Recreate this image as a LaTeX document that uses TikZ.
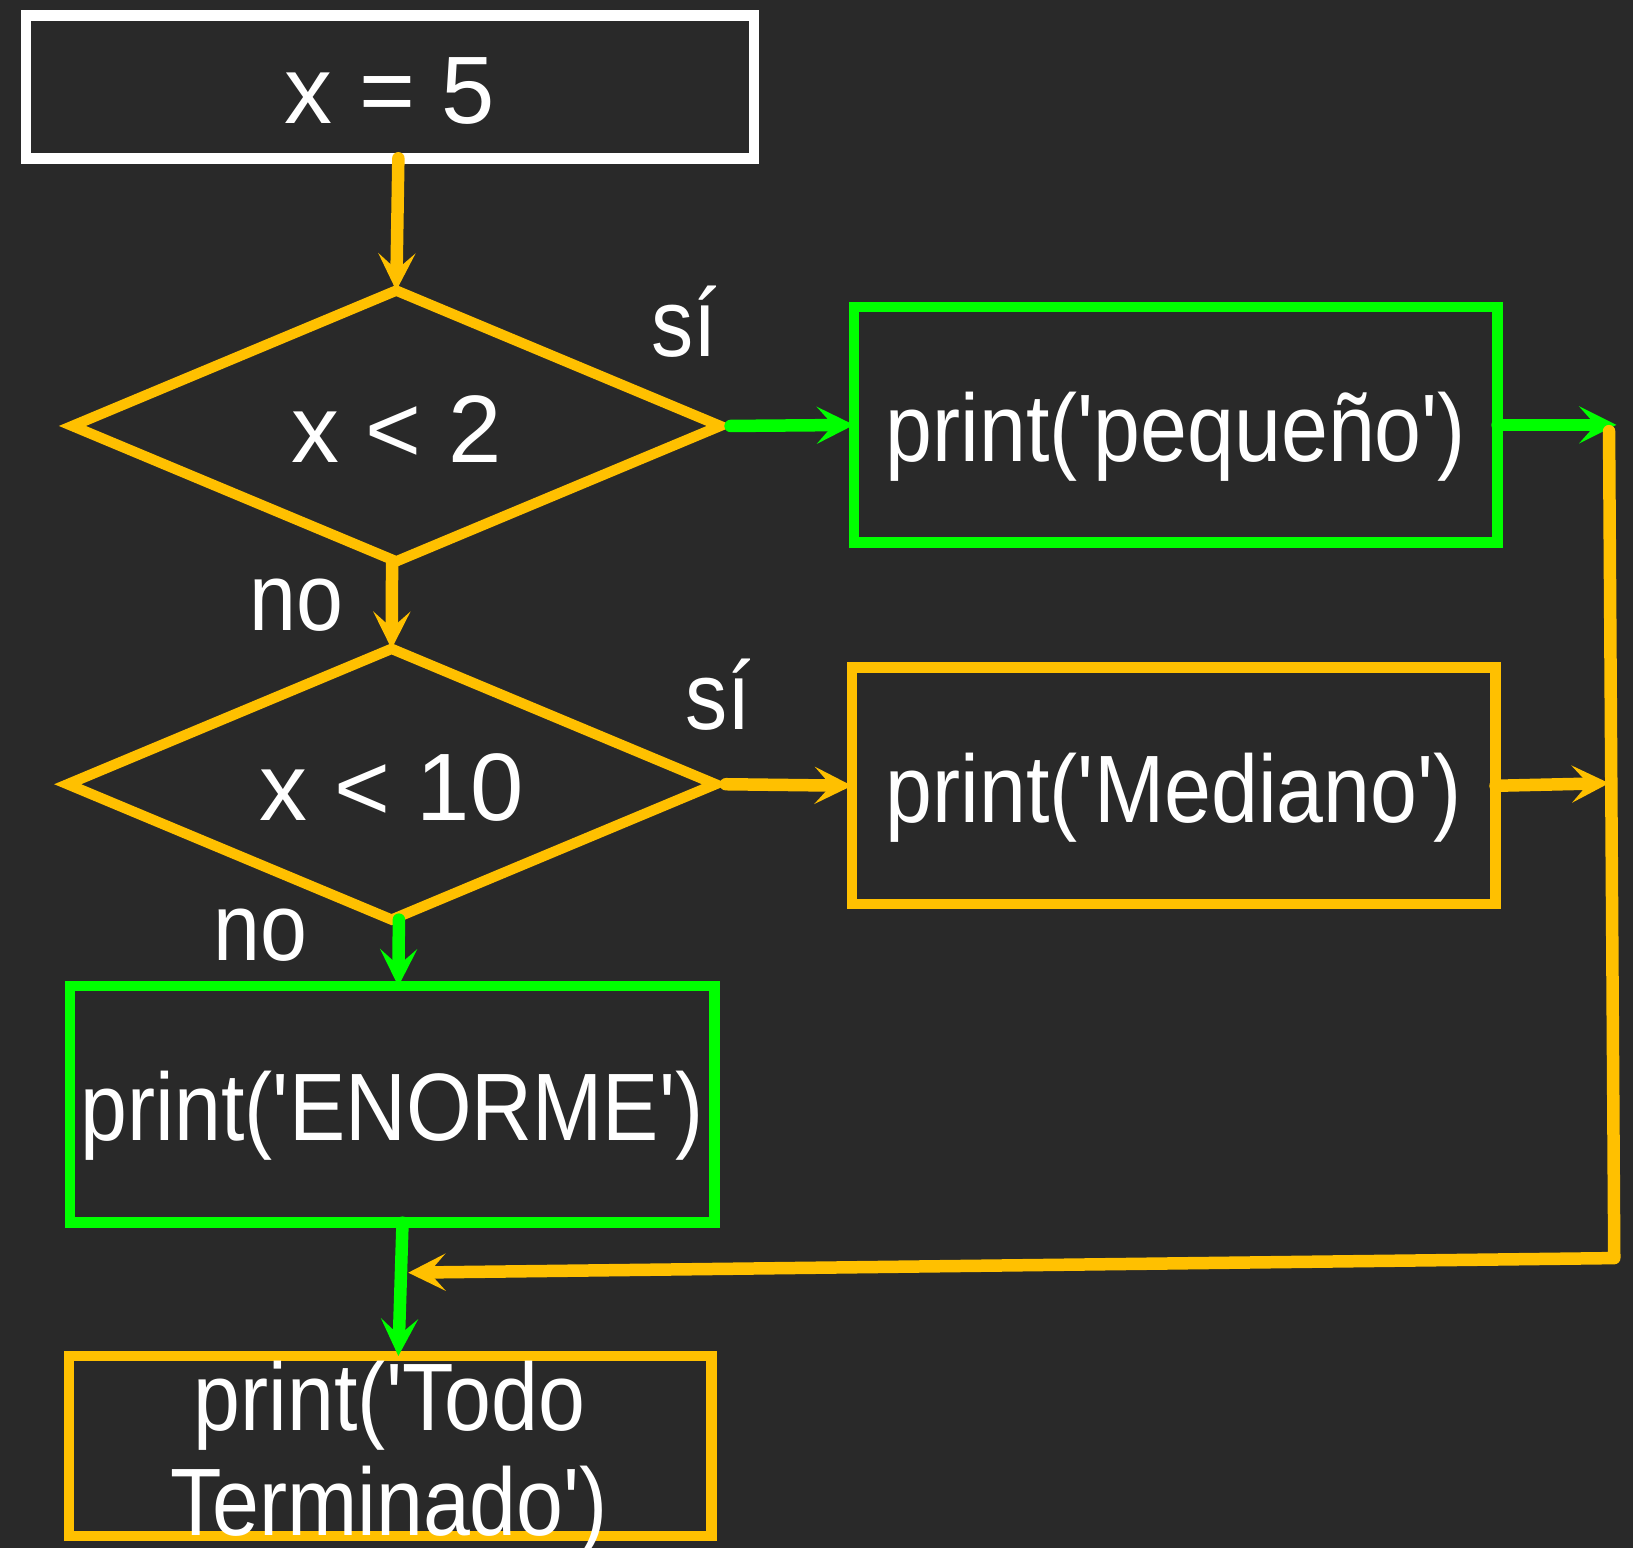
\documentclass[tikz,border=0pt]{standalone}
\usepackage{fontspec}
\setmainfont{Liberation Sans}
\usepackage{graphicx}
\usetikzlibrary{arrows.meta,shapes.geometric,calc}
\definecolor{bgc}{RGB}{41,41,41}
\definecolor{yel}{RGB}{255,192,0}
\definecolor{grn}{RGB}{0,255,0}
\newcommand\myq{\textquotesingle}
\newcommand\cond[1]{\scalebox{0.88}[1]{#1}}
\begin{document}
\begin{tikzpicture}[x=1pt,y=-1pt,
  txt/.style={text=white, font=\fontsize{92}{100}\selectfont, inner sep=0pt, outer sep=0pt, align=center},
  ctxt/.style={txt, text height=70pt, text depth=0pt},
  boxw/.style={rectangle, draw=white, line width=10pt, ctxt},
  boxg/.style={rectangle, draw=grn, line width=10pt, ctxt},
  boxy/.style={rectangle, draw=yel, line width=10pt, ctxt},
  dia/.style={diamond, aspect=2.4, draw=yel, line width=10pt, ctxt, minimum width=622pt, minimum height=260pt},
  con/.style={line width=12pt, line cap=round, line join=round, -{Stealth[length=36pt,width=36pt,inset=16pt,line width=0pt]}},
  lbl/.style={txt, anchor=base}
]
\fill[bgc] (0,0) rectangle (1568,1486);
\useasboundingbox (0,0) rectangle (1568,1486);

% nodes
\node[boxw, minimum width=699pt, minimum height=137pt] (start) at (374.5,83.5) {x = 5};
\node[dia] (d1) at (380.5,409) {x < 2};
\node[boxg, minimum width=618pt, minimum height=226pt] (peq) at (1129,408) {\cond{print(\myq pequeño\myq)}};
\node[dia] (d2) at (376,753) {x < 10};
\node[boxy, minimum width=618pt, minimum height=227pt] (med) at (1127,754.5) {\cond{print(\myq Mediano\myq)}};
\node[boxg, minimum width=619pt, minimum height=227pt] (enor) at (376.5,1060.5) {\cond{print(\myq ENORME\myq)}};
\node[boxy, minimum width=617pt, minimum height=173pt] (todo) at (374.5,1388.5) {};
\node[lbl] (todo1) at (374,1373.6) {\cond{print(\myq Todo}};
\node[lbl] (todo2) at (373.5,1474) {\cond{Terminado\myq)}};

% labels
\node[lbl] (si1) at (657,342.5) {\cond{sí}};
\node[lbl] (no1) at (285,605) {\cond{no}};
\node[lbl] (si2) at (690,700) {\cond{sí}};
\node[lbl] (no2) at (250,922) {\cond{no}};

% free ends
\coordinate (rj1) at (1552,408);
\coordinate (rj2) at (1545,752);
\coordinate (j1) at (1545,414);
\coordinate (j2) at (1550,1208);
\coordinate (m) at (392,1222);

% connectors
\draw[con, yel] ([xshift=8pt]start.south) -- (d1.north);
\draw[con, grn] ([xshift=10pt]d1.east) -- (peq.west);
\draw[con, grn] (peq.east) -- (rj1);
\draw[con, yel] ([xshift=-4pt]d1.south) -- (d2.north);
\draw[con, yel] ([xshift=10pt]d2.east) -- (med.west);
\draw[con, yel] (med.east) -- (rj2);
\draw[con, grn] ([xshift=7pt]d2.south) -- ([xshift=6pt]enor.north);
\draw[con, grn] ([xshift=10pt]enor.south) -- ([xshift=8pt]todo.north);
\draw[con, yel] (j1) -- (j2) -- (m);
\end{tikzpicture}
\end{document}
